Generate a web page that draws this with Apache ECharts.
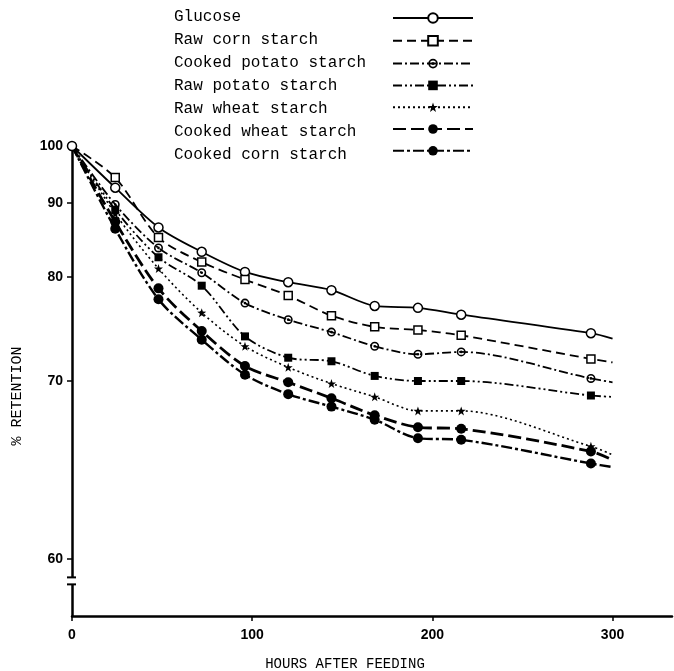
<!DOCTYPE html>
<html>
<head>
<meta charset="utf-8">
<title>% retention</title>
<script src="https://cdn.jsdelivr.net/npm/echarts@6/dist/echarts.min.js"></script>
<style>
html, body { margin: 0; padding: 0; background: #fff; }
#retention { width: 674px; height: 671px; }
</style>
</head>
<body>
<div id="retention"></div>
<script>
var hours = [0, 24, 48, 72, 96, 120, 144, 168, 192, 216, 288, 300];

var glucose       = [100, 92.5, 86.4, 83.1, 80.6, 79.4, 78.5, 76.8, 76.6, 75.9, 74.1, 73.6];
var rawCorn       = [100, 94.2, 85.0, 81.8, 79.7, 77.9, 75.8, 74.7, 74.4, 73.9, 71.8, 71.5];
var cookedPotato  = [100, 89.8, 83.6, 80.5, 77.1, 75.4, 74.2, 72.9, 72.2, 72.4, 70.2, 69.9];
var rawPotato     = [100, 89.0, 82.4, 79.0, 73.8, 71.9, 71.6, 70.4, 70.0, 70.0, 68.9, 68.8];
var rawWheat      = [100, 88.4, 81.0, 76.1, 72.9, 71.1, 69.8, 68.8, 67.8, 67.8, 65.5, 65.0];
var cookedWheat   = [100, 87.2, 78.7, 74.3, 71.2, 69.9, 68.7, 67.5, 66.7, 66.6, 65.2, 64.7];
var cookedCorn    = [100, 86.2, 77.5, 73.5, 70.5, 69.0, 68.1, 67.2, 66.0, 65.9, 64.5, 64.3];

var yTicks = [60, 70, 80, 90, 100];
var xTicks = [0, 100, 200, 300];

// the % axis of the figure is logarithmic in (% - 50)
var offset = 50;
function tr(v) { return Math.log(v - offset) / Math.LN10; }
function untr(t) { return Math.pow(10, t) + offset; }

var ringDot = 'path://M0,-10A10,10,0,1,1,0,10A10,10,0,1,1,0,-10ZM0,-6.5A6.5,6.5,0,1,0,0,6.5A6.5,6.5,0,1,0,0,-6.5ZM0,-3A3,3,0,1,1,0,3A3,3,0,1,1,0,-3Z';
var star = 'path://M0,-10L2.35,-3.24L9.51,-3.09L3.8,1.24L5.88,8.09L0,4L-5.88,8.09L-3.8,1.24L-9.51,-3.09L-2.35,-3.24Z';

function makeSeries(name, values, symbol, size, dash, width, fill, border) {
    return {
        name: name,
        type: 'line',
        smooth: 0.3,
        clip: false,
        symbol: symbol,
        symbolSize: size,
        lineStyle: { color: '#000', width: width, type: dash },
        itemStyle: { color: fill, borderColor: '#000', borderWidth: border },
        data: values.map(function (v, i) {
            var item = { value: [hours[i], tr(v)] };
            if (i == hours.length - 1 || (i == 0 && name != 'Glucose')) {
                item.symbol = 'none';
            }
            return item;
        })
    };
}

var chart = echarts.init(document.getElementById('retention'));

var names = ['Glucose', 'Raw corn starch', 'Cooked potato starch', 'Raw potato starch',
             'Raw wheat starch', 'Cooked wheat starch', 'Cooked corn starch'];

var option = {
    backgroundColor: '#fff',
    animation: false,
    legend: [
        {
            data: names,
            orient: 'vertical',
            left: 164,
            top: 4,
            icon: 'none',
            itemWidth: 0,
            itemHeight: 16,
            itemGap: 7,
            selectedMode: false,
            textStyle: { fontFamily: 'Liberation Mono', fontSize: 16, color: '#000' }
        },
        {
            data: names,
            orient: 'vertical',
            left: 387,
            top: 7,
            itemWidth: 80,
            itemHeight: 12,
            itemGap: 11,
            selectedMode: false,
            formatter: function () { return ''; },
            textStyle: { fontSize: 1 }
        }
    ],
    grid: { left: 72, right: 2, top: 146, bottom: 55, outerBoundsMode: 'none' },
    xAxis: {
        type: 'value',
        min: 0,
        max: 333,
        name: 'HOURS AFTER FEEDING',
        nameLocation: 'middle',
        nameGap: 41,
        nameTextStyle: { fontFamily: 'Liberation Mono', fontSize: 14, color: '#000', padding: [0, 54, 0, 0] },
        axisLine: { lineStyle: { color: '#000', width: 2.5 } },
        axisTick: { customValues: xTicks, length: 5, lineStyle: { color: '#000', width: 1.5 } },
        axisLabel: { customValues: xTicks, margin: 12, color: '#000', fontFamily: 'Liberation Sans', fontWeight: 'bold', fontSize: 14 },
        splitLine: { show: false }
    },
    yAxis: {
        type: 'value',
        min: tr(58),
        max: tr(100),
        name: '% RETENTION',
        nameLocation: 'middle',
        nameGap: 47,
        nameTextStyle: { fontFamily: 'Liberation Mono', fontSize: 15, color: '#000', padding: [0, 30, 0, 0] },
        axisLine: { show: true, lineStyle: { color: '#000', width: 2.5 } },
        axisTick: { show: true, customValues: yTicks.map(tr), length: 5, lineStyle: { color: '#000', width: 1.5 } },
        axisLabel: {
            customValues: yTicks.map(tr),
            margin: 9,
            color: '#000',
            fontFamily: 'Liberation Sans',
            fontWeight: 'bold',
            fontSize: 14,
            formatter: function (t) { return Math.round(untr(t)); }
        },
        splitLine: { show: false }
    },
    series: [
        makeSeries(names[0], glucose, 'circle', 9, 'solid', 1.8, '#fff', 1.5),
        makeSeries(names[1], rawCorn, 'rect', 8, [9, 5], 1.8, '#fff', 1.5),
        makeSeries(names[2], cookedPotato, ringDot, 9, [9, 3, 2, 3], 1.8, '#000', 0),
        makeSeries(names[3], rawPotato, 'rect', 8, [9, 3, 2, 3, 2, 3], 1.8, '#000', 0),
        makeSeries(names[4], rawWheat, star, 9, [2, 3], 1.6, '#000', 0),
        makeSeries(names[5], cookedWheat, 'circle', 10, [13, 5], 2.8, '#000', 0),
        makeSeries(names[6], cookedCorn, 'circle', 10, [11, 3, 3, 3], 2.4, '#000', 0)
    ]
};
chart.setOption(option);

// axis break just below 60
var xb = chart.convertToPixel({ xAxisIndex: 0 }, 0);
var yb1 = chart.convertToPixel({ yAxisIndex: 0 }, tr(59.3));
var yb2 = chart.convertToPixel({ yAxisIndex: 0 }, tr(59.05));
chart.setOption({
    graphic: [
        { type: 'rect', shape: { x: xb - 3, y: yb1, width: 6, height: yb2 - yb1 }, style: { fill: '#fff' }, z: 100 },
        { type: 'line', shape: { x1: xb - 5, y1: yb1, x2: xb + 4, y2: yb1 }, style: { stroke: '#000', lineWidth: 2 }, z: 101 },
        { type: 'line', shape: { x1: xb - 5, y1: yb2, x2: xb + 4, y2: yb2 }, style: { stroke: '#000', lineWidth: 2 }, z: 101 }
    ]
});
</script>
</body>
</html>
